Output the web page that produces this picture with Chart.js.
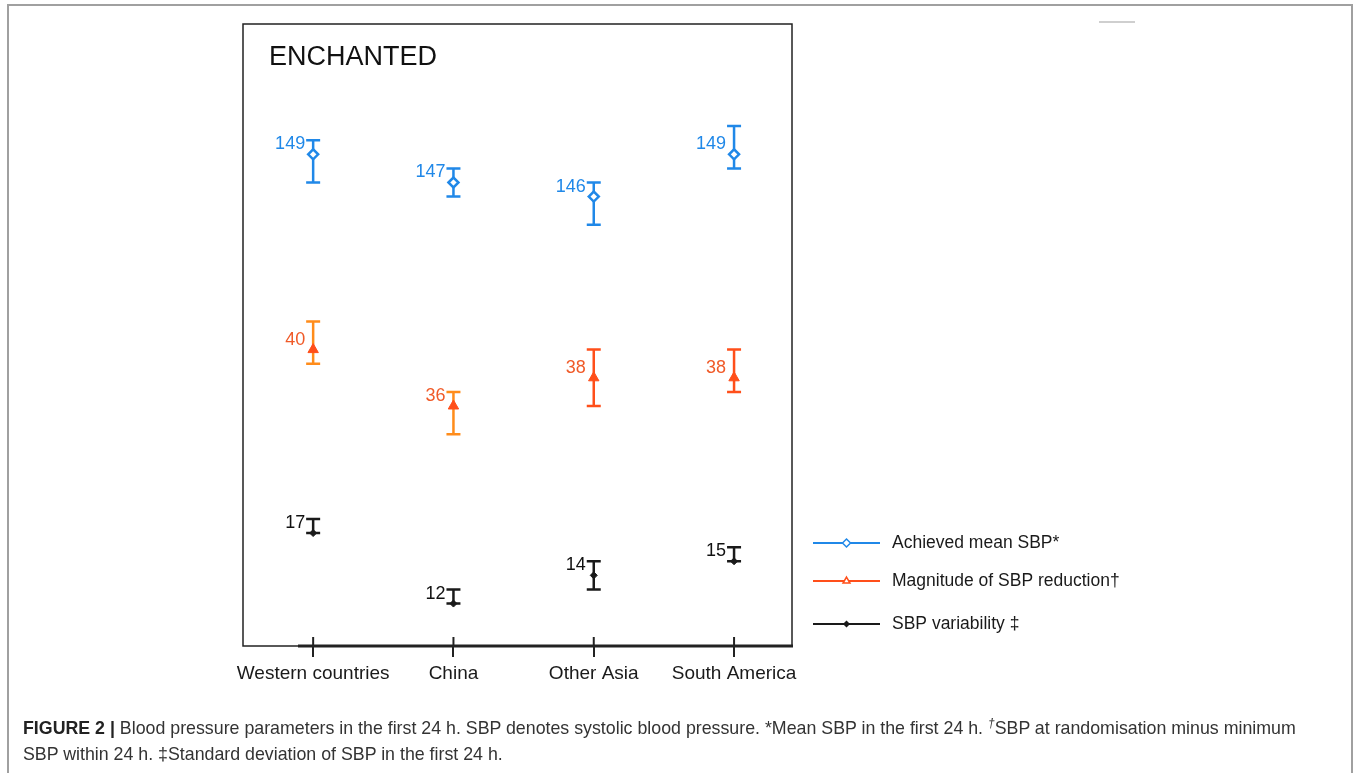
<!DOCTYPE html>
<html>
<head>
<meta charset="utf-8">
<script src="https://cdn.jsdelivr.net/npm/chart.js@4.4.1/dist/chart.umd.min.js"></script>
<style>
  html, body { margin: 0; padding: 0; background: #fff; }
  #wrap { position: relative; width: 1357px; height: 773px; overflow: hidden; font-family: Arial, "Liberation Sans", sans-serif; }
  #frame { position: absolute; left: 7px; top: 4px; width: 1346px; height: 800px; border: 2px solid #a0a0a0; box-sizing: border-box; }
  #mark { position: absolute; left: 1099px; top: 21px; width: 36px; height: 2px; background: #cfcfcf; }
  #chart { position: absolute; left: 0; top: 0; }
  #caption { position: absolute; left: 23px; top: 710px; font-size: 17.8px; line-height: 26px; color: #333; white-space: nowrap; }
  #caption b { color: #222; }
</style>
</head>
<body>
<div id="wrap">
  <div id="frame"></div>
  <div id="mark"></div>
  <canvas id="chart" width="1357" height="773"></canvas>
  <div id="caption"><b>FIGURE 2 |</b> Blood pressure parameters in the first 24 h. SBP denotes systolic blood pressure. *Mean SBP in the first 24 h. <sup style="font-size:12px"><i>†</i></sup>SBP at randomisation minus minimum<br>SBP within 24 h. ‡Standard deviation of SBP in the first 24 h.</div>
</div>
<script>
// Regions (x axis)
const regions = ['Western countries', 'China', 'Other Asia', 'South America'];

// Achieved mean SBP* (mmHg) with interval ends
const meanSbp = [149, 147, 146, 149];
const meanSbpLow = [147, 146, 144, 148];
const meanSbpHigh = [150, 148, 147, 151];

// Magnitude of SBP reduction†
const sbpReduction = [40, 36, 38, 38];
const sbpReductionLow = [39, 34, 36, 37];
const sbpReductionHigh = [42, 37, 40, 40];

// SBP variability‡
const sbpVariability = [17, 12, 14, 15];
const sbpVariabilityLow = [17, 12, 13, 15];
const sbpVariabilityHigh = [18, 13, 15, 16];

const seriesNames = ['Achieved mean SBP*', 'Magnitude of SBP reduction\u2020', 'SBP variability \u2021'];

const BLUE = '#2088e8';
const ORANGE = '#ff4f1a';
const LIGHT_ORANGE = '#ff8c1a';
const BLACK = '#1a1a1a';

function toPoints(values) {
  return values.map((v, i) => ({ x: i, y: v }));
}

// error bars + value labels
const errorBarPlugin = {
  id: 'errorBars',
  beforeDatasetsDraw(chart) {
    const ctx = chart.ctx;
    const xs = chart.scales.x;
    chart.data.datasets.forEach((ds) => {
      const ys = chart.scales[ds.yAxisID];
      ds.data.forEach((p, i) => {
        const px = xs.getPixelForValue(p.x);
        const top = ys.getPixelForValue(ds.high[i]);
        const bot = ys.getPixelForValue(ds.low[i]);
        ctx.save();
        ctx.strokeStyle = Array.isArray(ds.barColor) ? ds.barColor[i] : ds.barColor;
        ctx.lineWidth = 2.5;
        ctx.beginPath();
        ctx.moveTo(px, top); ctx.lineTo(px, bot);
        ctx.moveTo(px - 7, top); ctx.lineTo(px + 7, top);
        ctx.moveTo(px - 7, bot); ctx.lineTo(px + 7, bot);
        ctx.stroke();
        ctx.restore();
      });
    });
  },
  afterDatasetsDraw(chart) {
    const ctx = chart.ctx;
    const xs = chart.scales.x;
    chart.data.datasets.forEach((ds) => {
      const ys = chart.scales[ds.yAxisID];
      ds.data.forEach((p) => {
        ctx.save();
        ctx.font = '18px Arial, "Liberation Sans", sans-serif';
        ctx.fillStyle = ds.labelColor;
        ctx.textAlign = 'right';
        ctx.textBaseline = 'middle';
        ctx.fillText(String(p.y), xs.getPixelForValue(p.x) - 8, ys.getPixelForValue(p.y) - 10);
        ctx.restore();
      });
    });
  }
};

// frame, title, legend
const framePlugin = {
  id: 'frameLegend',
  afterDraw(chart) {
    const ctx = chart.ctx;
    const a = chart.chartArea;
    ctx.save();
    ctx.strokeStyle = '#222';
    ctx.lineWidth = 1.5;
    ctx.strokeRect(a.left, a.top, a.right - a.left, a.bottom - a.top);
    ctx.lineWidth = 3;
    ctx.beginPath();
    ctx.moveTo(a.left + 55, a.bottom);
    ctx.lineTo(a.right + 1, a.bottom);
    ctx.stroke();
    // upper part of the category ticks
    ctx.lineWidth = 2;
    chart.scales.x.ticks.forEach((t) => {
      const px = chart.scales.x.getPixelForValue(t.value);
      ctx.beginPath();
      ctx.moveTo(px, a.bottom - 9);
      ctx.lineTo(px, a.bottom);
      ctx.stroke();
    });

    ctx.fillStyle = '#111';
    ctx.font = '27px Arial, "Liberation Sans", sans-serif';
    ctx.textBaseline = 'middle';
    ctx.textAlign = 'left';
    ctx.fillText('ENCHANTED', a.left + 26, a.top + 34);

    // legend
    const rowsY = [a.bottom - 103, a.bottom - 65, a.bottom - 22];
    chart.data.datasets.forEach((ds, i) => {
      const y = rowsY[i];
      const x0 = a.right + 21;
      const x1 = a.right + 88;
      ctx.strokeStyle = ds.borderColor;
      ctx.lineWidth = 2;
      ctx.beginPath();
      ctx.moveTo(x0, y); ctx.lineTo(x1, y);
      ctx.stroke();
      ctx.fillStyle = i === 2 ? BLACK : '#fff';
      ctx.lineWidth = 1.5;
      Chart.helpers.drawPoint(ctx, {
        pointStyle: ds.pointStyle,
        radius: i === 2 ? 2.5 : 4,
        rotation: 0,
        borderWidth: 1.5
      }, (x0 + x1) / 2, y);
      ctx.fillStyle = '#1a1a1a';
      ctx.font = '17.5px Arial, "Liberation Sans", sans-serif';
      ctx.textAlign = 'left';
      ctx.fillText(seriesNames[i], a.right + 100, y);
    });
    ctx.restore();
  }
};

const ctx = document.getElementById('chart').getContext('2d');
const chart = new Chart(ctx, {
  type: 'line',
  data: {
    datasets: [
      {
        label: seriesNames[0],
        data: toPoints(meanSbp),
        low: meanSbpLow,
        high: meanSbpHigh,
        yAxisID: 'yMean',
        showLine: false,
        pointStyle: 'rectRot',
        pointRadius: 5,
        pointBorderWidth: 2.5,
        borderColor: BLUE,
        pointBackgroundColor: '#fff',
        barColor: BLUE,
        labelColor: BLUE
      },
      {
        label: seriesNames[1],
        data: toPoints(sbpReduction),
        low: sbpReductionLow,
        high: sbpReductionHigh,
        yAxisID: 'yReduction',
        showLine: false,
        pointStyle: 'triangle',
        pointRadius: 6,
        pointBorderWidth: 1,
        borderColor: ORANGE,
        pointBackgroundColor: ORANGE,
        barColor: [LIGHT_ORANGE, LIGHT_ORANGE, ORANGE, ORANGE],
        labelColor: '#f05a28'
      },
      {
        label: seriesNames[2],
        data: toPoints(sbpVariability),
        low: sbpVariabilityLow,
        high: sbpVariabilityHigh,
        yAxisID: 'yVariability',
        showLine: false,
        pointStyle: 'rectRot',
        pointRadius: 3.5,
        pointBorderWidth: 1,
        borderColor: BLACK,
        pointBackgroundColor: BLACK,
        barColor: BLACK,
        labelColor: '#111'
      }
    ]
  },
  options: {
    responsive: false,
    animation: false,
    layout: { padding: { left: 243, right: 565, top: 24, bottom: 77 } },
    plugins: {
      legend: { display: false },
      tooltip: { enabled: false }
    },
    scales: {
      x: {
        type: 'linear',
        min: -0.5,
        max: 3.413,
        afterBuildTicks: (axis) => { axis.ticks = regions.map((r, i) => ({ value: i })); },
        afterFit: (axis) => { axis.height = 50; },
        ticks: {
          callback: (v) => regions[v],
          font: { size: 19, family: 'Arial, "Liberation Sans", sans-serif' },
          color: '#1a1a1a',
          padding: 5,
          maxRotation: 0,
          autoSkip: false
        },
        grid: { drawOnChartArea: false, drawTicks: true, tickLength: 11, color: '#222', lineWidth: 2 },
        border: { display: false }
      },
      // three broken panels sharing one scale of ~14 px per mmHg
      yMean: { type: 'linear', display: false, min: 114.13, max: 158.24 },
      yReduction: { type: 'linear', display: false, min: 18.98, max: 63.09 },
      yVariability: { type: 'linear', display: false, min: 8.99, max: 53.1 }
    }
  },
  plugins: [errorBarPlugin, framePlugin]
});
</script>
</body>
</html>
